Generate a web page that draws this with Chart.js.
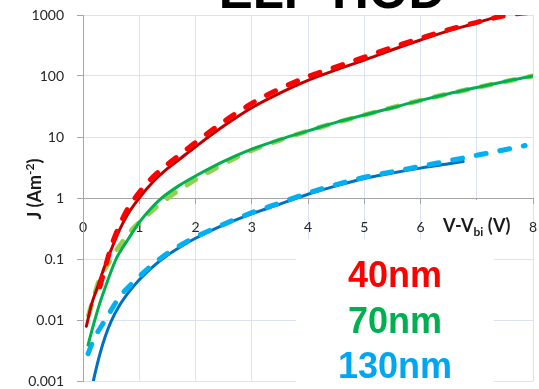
<!DOCTYPE html>
<html>
<head>
<meta charset="utf-8">
<script src="https://cdn.jsdelivr.net/npm/chart.js@4/dist/chart.umd.min.js"></script>
<style>
  html, body { margin: 0; padding: 0; background: #ffffff; }
  #wrap { position: relative; width: 539px; height: 389px; }
</style>
</head>
<body>
<div id="wrap"><canvas id="c"></canvas></div>
<script>
// Current density J (A m^-2) against V - Vbi (V) for three layer thicknesses.
// Solid lines: measured; dashed lines: model.

// 40 nm
const v40Meas = [0.06, 0.15, 0.25, 0.4, 0.5, 0.65, 0.8, 1.0, 1.25, 1.5, 1.75, 2.0, 2.5, 3.0, 3.5, 4.0, 4.5, 5.0, 5.5, 6.0, 6.5, 7.0, 7.45];
const j40Meas = [0.0079, 0.0178, 0.033, 0.083, 0.141, 0.30, 0.55, 1.0, 1.86, 3.02, 4.57, 6.9, 15.1, 30.2, 52.5, 85, 126, 182, 269, 389, 550, 741, 1000];
const v40Model = [0.3, 0.4, 0.5, 0.6, 0.75, 0.9, 1.05, 1.25, 1.5, 1.75, 2.0, 2.5, 3.0, 3.5, 4.0, 4.5, 5.0, 5.5, 6.0, 6.5, 7.0, 7.5, 8.0];
const j40Model = [0.035, 0.076, 0.158, 0.28, 0.56, 0.93, 1.41, 2.24, 3.55, 5.37, 8.13, 17.8, 35.5, 61.7, 97.7, 141, 204, 295, 417, 575, 759, 977, 1122];

// 70 nm
const v70Meas = [0.09, 0.15, 0.21, 0.3, 0.4, 0.5, 0.6, 0.7, 0.8, 1.0, 1.2, 1.4, 1.7, 2.0, 2.5, 3.0, 3.5, 4.0, 4.5, 5.0, 5.5, 6.0, 6.5, 7.0, 7.5, 8.0];
const j70Meas = [0.0039, 0.0063, 0.01, 0.019, 0.035, 0.063, 0.105, 0.151, 0.209, 0.398, 0.661, 1.0, 1.58, 2.29, 3.98, 6.31, 9.12, 12.6, 17.4, 22.9, 30.2, 39.8, 51.3, 64.6, 81.3, 100];
const v70Model = [0.1, 0.2, 0.3, 0.45, 0.56, 0.7, 0.89, 1.1, 1.31, 1.6, 2.0, 2.5, 3.0, 3.5, 4.0, 5.0, 6.0, 7.0, 8.0];
const j70Model = [0.012, 0.025, 0.048, 0.085, 0.126, 0.19, 0.316, 0.479, 0.724, 1.15, 2.0, 3.63, 6.03, 8.91, 12.6, 22.9, 39.8, 64.6, 100];

// 130 nm
const v130Meas = [0.16, 0.2, 0.3, 0.4, 0.5, 0.65, 0.8, 1.0, 1.25, 1.5, 1.75, 2.0, 2.5, 3.0, 3.5, 4.0, 4.5, 5.0, 5.5, 6.0, 6.5, 6.76];
const j130Meas = [0.00079, 0.00117, 0.00275, 0.0055, 0.0095, 0.0174, 0.0275, 0.0457, 0.0759, 0.115, 0.162, 0.219, 0.363, 0.55, 0.794, 1.15, 1.58, 2.09, 2.57, 3.09, 3.63, 3.98];
const v130Model = [0.09, 0.2, 0.36, 0.5, 0.65, 0.85, 1.04, 1.25, 1.45, 1.7, 2.0, 2.5, 3.0, 3.5, 4.0, 4.5, 5.0, 5.5, 6.0, 6.5, 7.0, 7.5, 7.86];
const j130Model = [0.0028, 0.005, 0.0089, 0.0145, 0.024, 0.038, 0.056, 0.083, 0.115, 0.162, 0.229, 0.37, 0.575, 0.83, 1.2, 1.66, 2.19, 2.69, 3.31, 4.07, 5.01, 6.17, 7.24];

// Axis ticks
const xTickValues = [0, 1, 2, 3, 4, 5, 6, 7, 8];
const xTickLabels = ['0', '1', '2', '3', '4', '5', '6', '', '8'];
const yTickValues = [0.001, 0.01, 0.1, 1, 10, 100, 1000];
const yTickLabels = ['0.001', '0.01', '0.1', '1', '10', '100', '1000'];

// Series names shown in the key block
const seriesNames = ['40nm', '70nm', '130nm'];
const seriesTextColors = ['#ff0000', '#00b050', '#00a6f0'];

const pts = (xs, ys) => xs.map((x, i) => ({ x: x, y: ys[i] }));

const gridColor = '#dce3f0';
const axisColor = '#a6a6a6';

function line(label, xs, ys, color, width, dashed, order) {
  return {
    label: label,
    data: pts(xs, ys),
    borderColor: color,
    backgroundColor: color,
    borderWidth: width,
    borderDash: dashed ? [10, 14] : [],
    borderCapStyle: 'round',
    borderJoinStyle: 'round',
    pointRadius: 0,
    fill: false,
    cubicInterpolationMode: 'monotone',
    order: order
  };
}

const overlay = {
  id: 'overlay',
  afterDraw(chart) {
    const ctx = chart.ctx;
    const xs = chart.scales.x;
    ctx.save();

    // chart title, partly above the canvas edge
    ctx.fillStyle = '#000000';
    ctx.font = 'bold 51px "Liberation Sans", Arial, sans-serif';
    ctx.textAlign = 'center';
    ctx.textBaseline = 'alphabetic';
    ctx.fillText('ELP HOD', 332, 8);

    // x axis title sitting on the "7" tick slot
    const cx = xs.getPixelForValue(7);
    ctx.fillStyle = '#ffffff';
    ctx.fillRect(cx - 38, 200, 76, 40);
    const mainFont = 'bold 18px Lato, sans-serif';
    const subFont = 'bold 12px Lato, sans-serif';
    ctx.font = mainFont;
    const a = 'V-V', c = ' (V)';
    const wa = ctx.measureText(a).width, wc = ctx.measureText(c).width;
    ctx.font = subFont;
    const b = 'bi';
    const wb = ctx.measureText(b).width;
    let tx = cx - (wa + wb + wc) / 2;
    const base = 232;
    ctx.textAlign = 'left';
    ctx.fillStyle = '#1a1a1a';
    ctx.font = mainFont; ctx.fillText(a, tx, base); tx += wa;
    ctx.font = subFont; ctx.fillText(b, tx, base + 4); tx += wb;
    ctx.font = mainFont; ctx.fillText(c, tx, base);

    // y axis title, rotated
    ctx.save();
    ctx.translate(41, 189);
    ctx.rotate(-Math.PI / 2);
    const ya = 'J (Am', yb = '-2', yc = ')';
    ctx.font = mainFont;
    const wya = ctx.measureText(ya).width, wyc = ctx.measureText(yc).width;
    ctx.font = subFont;
    const wyb = ctx.measureText(yb).width;
    let ty = -(wya + wyb + wyc) / 2;
    ctx.font = mainFont; ctx.fillText(ya, ty, 0); ty += wya;
    ctx.font = subFont; ctx.fillText(yb, ty, -7); ty += wyb;
    ctx.font = mainFont; ctx.fillText(yc, ty, 0);
    ctx.restore();

    // key block
    ctx.fillStyle = '#ffffff';
    ctx.fillRect(296, 239, 198, 143);
    ctx.font = 'bold 36px "Liberation Sans", Arial, sans-serif';
    ctx.textAlign = 'center';
    const baselines = [287, 333, 378];
    seriesNames.forEach((name, i) => {
      ctx.fillStyle = seriesTextColors[i];
      ctx.fillText(name, 395, baselines[i]);
    });

    ctx.restore();
  }
};

Chart.defaults.font.family = 'Lato, sans-serif';
Chart.defaults.font.size = 14;
Chart.defaults.color = '#262626';

new Chart(document.getElementById('c'), {
  type: 'line',
  data: {
    datasets: [
      line('40nm model', v40Model, j40Model, '#ff0000', 5, true, 0),
      line('40nm', v40Meas, j40Meas, '#c00000', 3, false, 1),
      line('70nm', v70Meas, j70Meas, '#00b050', 3, false, 2),
      line('70nm model', v70Model, j70Model, '#92d050', 5, true, 3),
      line('130nm model', v130Model, j130Model, '#00b0f0', 5, true, 4),
      line('130nm', v130Meas, j130Meas, '#0070c0', 3, false, 5)
    ]
  },
  options: {
    responsive: true,
    maintainAspectRatio: false,
    animation: false,
    events: [],
    layout: { padding: { top: 15, right: 6, bottom: 8, left: 0 } },
    plugins: { legend: { display: false }, tooltip: { enabled: false }, title: { display: false } },
    scales: {
      x: {
        type: 'linear',
        min: 0,
        max: 8,
        position: { y: 1 },
        afterFit: s => { s.height = 0; s.paddingLeft = 0; s.paddingRight = 0; s.paddingTop = 0; s.paddingBottom = 0; },
        afterBuildTicks: s => { s.ticks = xTickValues.map(v => ({ value: v })); },
        ticks: {
          autoSkip: false,
          maxRotation: 0,
          padding: 16,
          callback: (v) => xTickLabels[xTickValues.indexOf(v)]
        },
        grid: { color: gridColor, tickColor: axisColor, tickLength: 5, lineWidth: 1 },
        border: { color: axisColor, width: 1 }
      },
      y: {
        type: 'logarithmic',
        min: 0.001,
        max: 1000,
        position: 'left',
        afterFit: s => { s.width = 83; s.paddingTop = 0; s.paddingBottom = 0; s.paddingLeft = 0; s.paddingRight = 0; },
        afterBuildTicks: s => { s.ticks = yTickValues.map(v => ({ value: v })); },
        ticks: {
          autoSkip: false,
          padding: 13,
          callback: (v) => yTickLabels[yTickValues.indexOf(v)]
        },
        grid: { color: gridColor, tickColor: axisColor, tickLength: 6, lineWidth: 1 },
        border: { color: axisColor, width: 1 }
      }
    }
  },
  plugins: [overlay]
});
</script>
</body>
</html>
